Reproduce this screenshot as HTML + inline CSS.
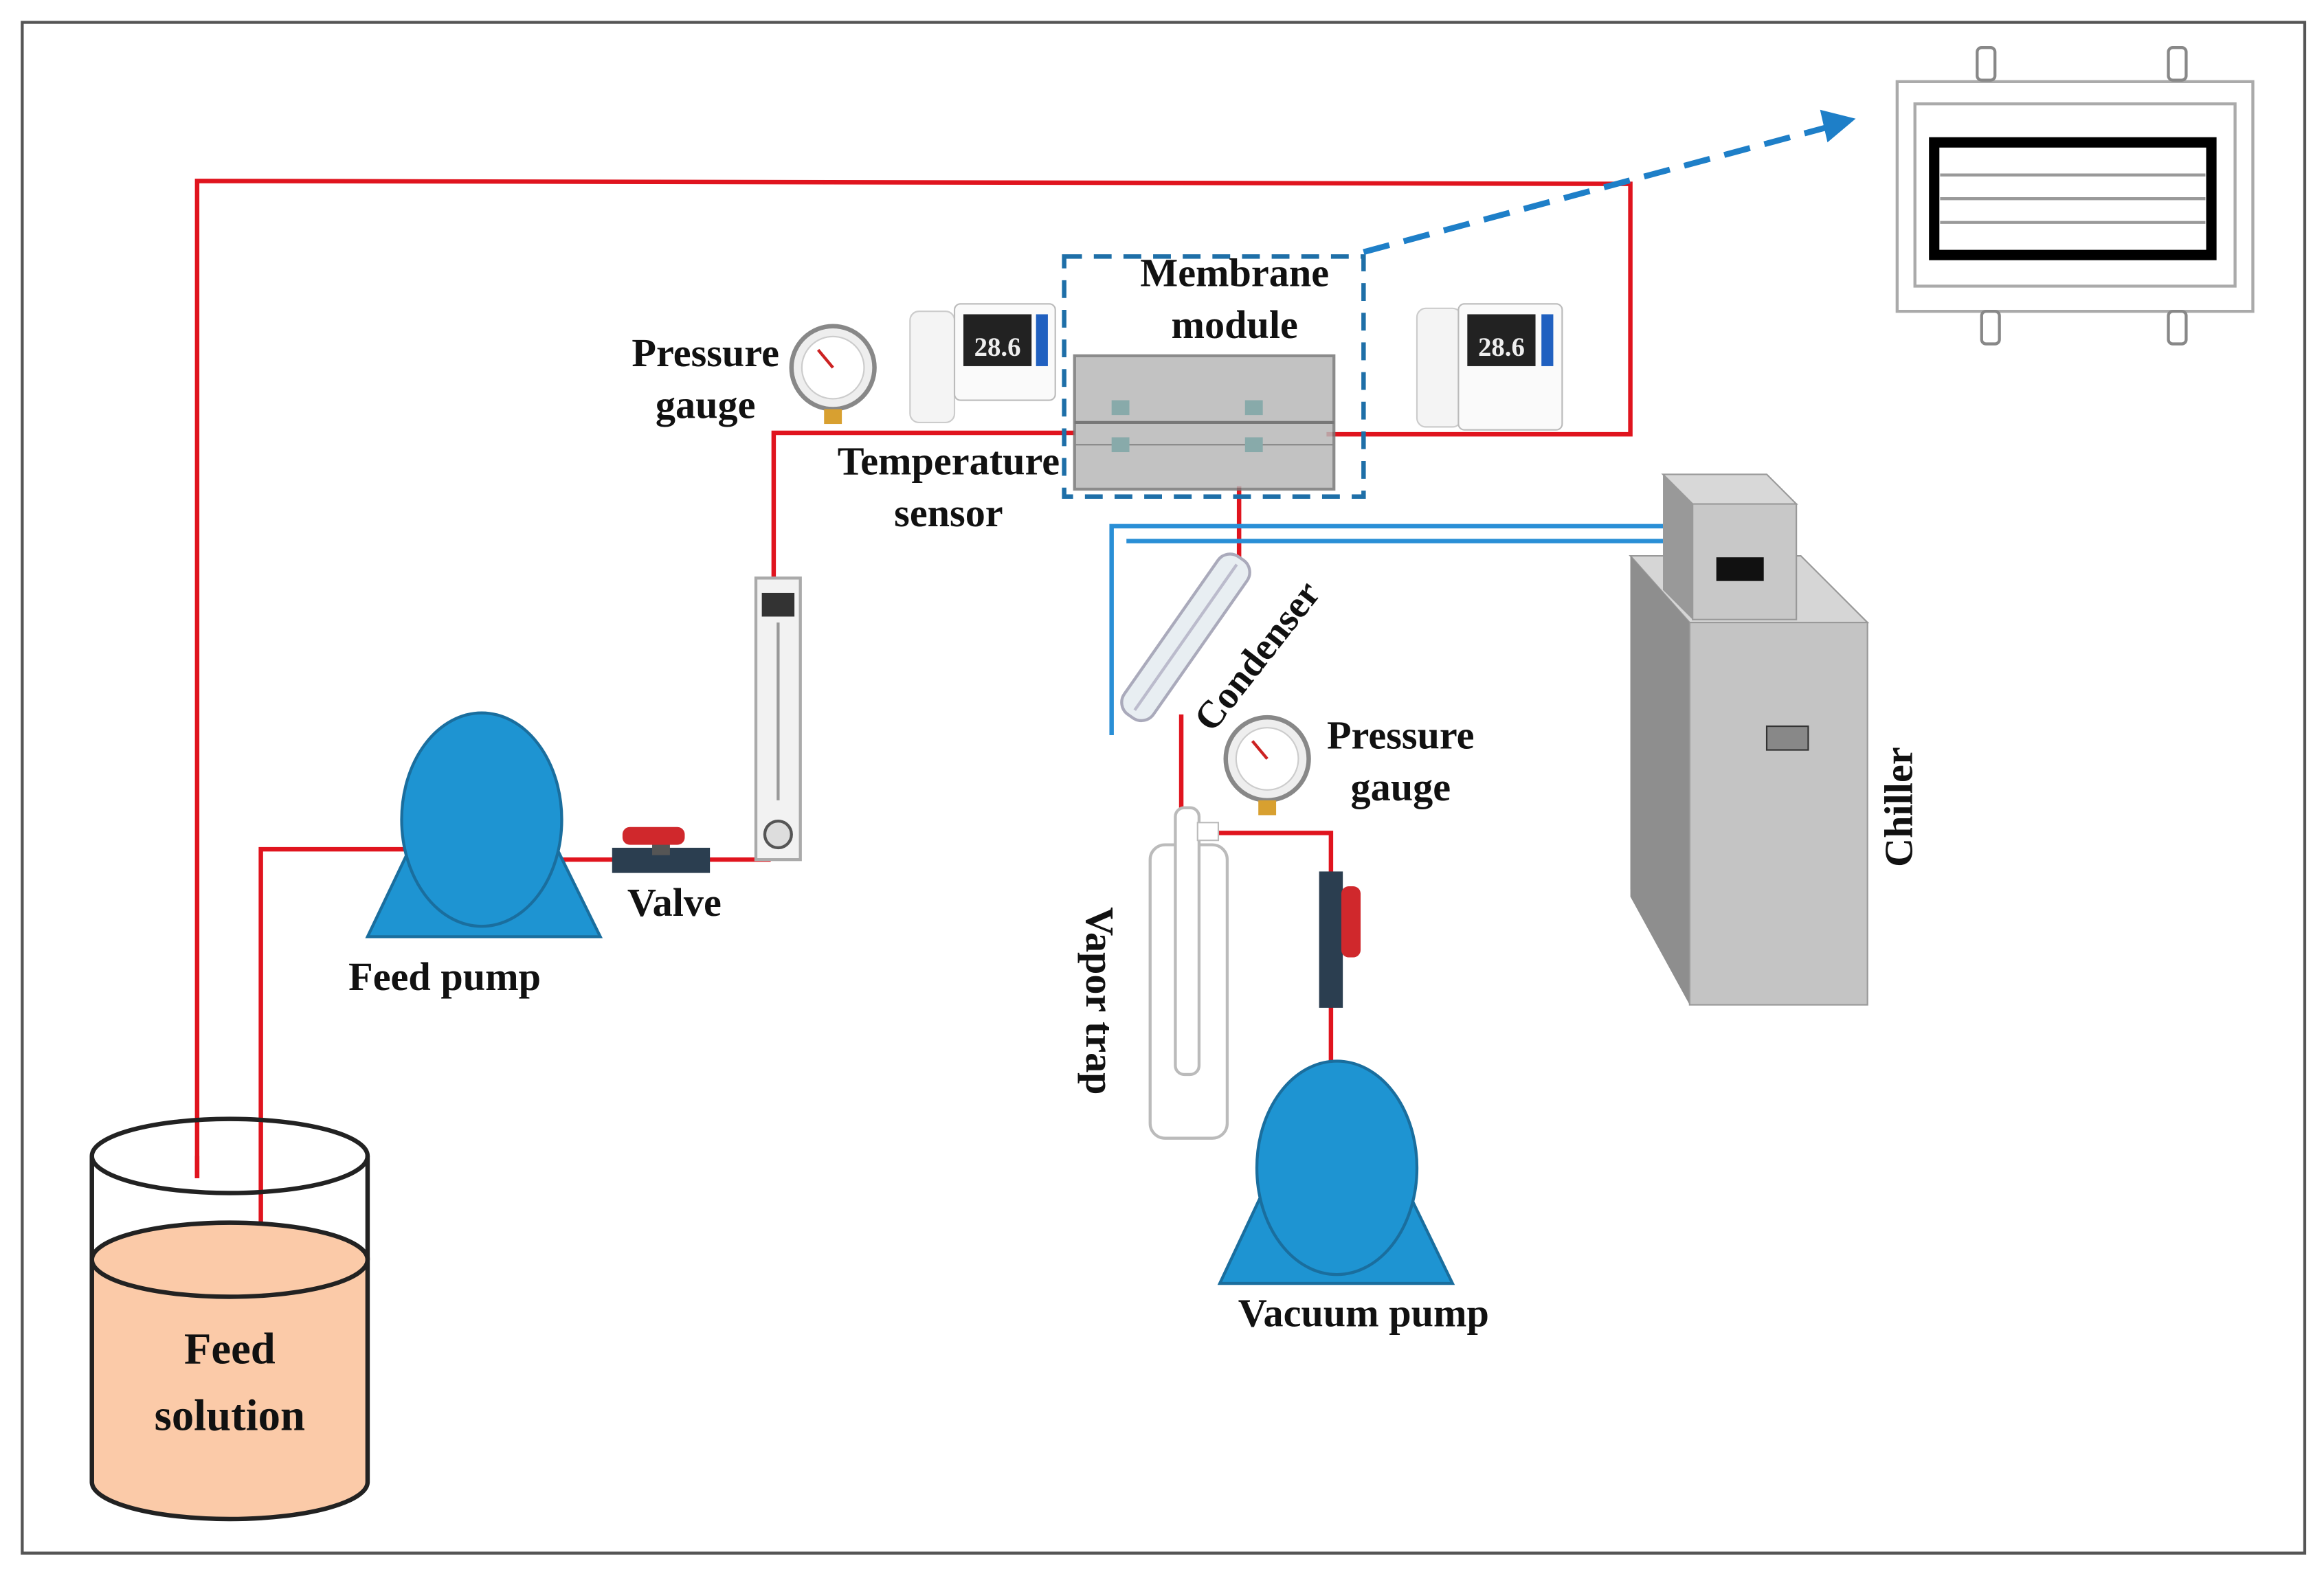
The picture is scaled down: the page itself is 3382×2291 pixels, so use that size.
<!DOCTYPE html>
<html><head><meta charset="utf-8">
<style>
html,body{margin:0;padding:0;background:#fff;}
svg{display:block;}
text{font-family:"Liberation Serif",serif;font-weight:bold;fill:#111;}
</style></head>
<body>
<svg width="3382" height="2291" viewBox="0 0 1568 1062" xmlns="http://www.w3.org/2000/svg">
<rect x="0" y="0" width="1568" height="1062" fill="#fff"/>
<rect x="15" y="15" width="1540" height="1033" fill="none" stroke="#555" stroke-width="2"/>

<!-- red piping -->
<g stroke="#e0141e" stroke-width="3" fill="none">
<polyline points="133,795 133,122 1100,124 1100,293 895,293"/>
<polyline points="176,853 176,573 275,573"/>
<line x1="378" y1="580" x2="520" y2="580"/>
<polyline points="522,392 522,292 725,292"/>
<line x1="836" y1="328" x2="836" y2="385"/>
<polyline points="797,482 797,548"/>
<polyline points="820,562 898,562 898,722"/>
</g>

<!-- blue chiller lines -->
<g stroke="#2a8fd6" stroke-width="3" fill="none">
<polyline points="750,496 750,355 1122,355"/>
<line x1="760" y1="365" x2="1122" y2="365"/>
</g>

<!-- Beaker -->
<path d="M62,850 L62,1000 A93,25 0 0 0 248,1000 L248,850 Z" fill="#fbcaa8" stroke="#222" stroke-width="3"/>
<ellipse cx="155" cy="850" rx="93" ry="25" fill="#fbcaa8" stroke="#222" stroke-width="3"/>
<line x1="62" y1="780" x2="62" y2="850" stroke="#222" stroke-width="3"/>
<line x1="248" y1="780" x2="248" y2="850" stroke="#222" stroke-width="3"/>
<ellipse cx="155" cy="780" rx="93" ry="25" fill="none" stroke="#222" stroke-width="3"/>
<line x1="133" y1="780" x2="133" y2="795" stroke="#e0141e" stroke-width="3"/>
<text x="155" y="920" font-size="30" text-anchor="middle">Feed</text>
<text x="155" y="965" font-size="30" text-anchor="middle">solution</text>

<!-- Feed pump -->
<polygon points="248,632 405,632 372,565 280,565" fill="#1e94d2" stroke="#1a6e9e" stroke-width="2"/>
<ellipse cx="325" cy="553" rx="54" ry="72" fill="#1e94d2" stroke="#1a6e9e" stroke-width="2"/>
<text x="300" y="668" font-size="27" text-anchor="middle">Feed pump</text>

<!-- Valve -->
<rect x="413" y="572" width="66" height="17" fill="#2b3e50"/>
<rect x="440" y="567" width="12" height="10" fill="#555"/>
<rect x="420" y="558" width="42" height="12" rx="5" fill="#d0282c"/>
<text x="455" y="618" font-size="27" text-anchor="middle">Valve</text>

<!-- Flowmeter -->
<rect x="510" y="390" width="30" height="190" fill="#f2f2f2" stroke="#aaa" stroke-width="2"/>
<rect x="514" y="400" width="22" height="16" fill="#333"/>
<line x1="525" y1="420" x2="525" y2="540" stroke="#999" stroke-width="2"/>
<circle cx="525" cy="563" r="9" fill="#ddd" stroke="#555" stroke-width="2"/>

<!-- Pressure gauge 1 -->
<circle cx="562" cy="248" r="28" fill="#eee" stroke="#888" stroke-width="3"/>
<circle cx="562" cy="248" r="21" fill="#fff" stroke="#ccc"/>
<line x1="562" y1="248" x2="552" y2="236" stroke="#c22" stroke-width="2"/>
<rect x="556" y="276" width="12" height="10" fill="#d8a030"/>
<text x="476" y="247" font-size="27" text-anchor="middle">Pressure</text>
<text x="476" y="282" font-size="27" text-anchor="middle">gauge</text>

<!-- Temperature sensors -->
<g>
<rect x="614" y="210" width="30" height="75" rx="6" fill="#f4f4f4" stroke="#ccc"/>
<rect x="644" y="205" width="68" height="65" rx="4" fill="#fafafa" stroke="#bbb"/>
<rect x="650" y="212" width="46" height="35" fill="#222"/>
<text x="673" y="240" font-size="18" fill="#eee" text-anchor="middle" style="fill:#eee">28.6</text>
<rect x="699" y="212" width="8" height="35" fill="#2060c0"/>
</g>
<g>
<rect x="956" y="208" width="30" height="80" rx="6" fill="#f4f4f4" stroke="#ccc"/>
<rect x="984" y="205" width="70" height="85" rx="4" fill="#fafafa" stroke="#bbb"/>
<rect x="990" y="212" width="46" height="35" fill="#222"/>
<text x="1013" y="240" font-size="18" text-anchor="middle" style="fill:#eee">28.6</text>
<rect x="1040" y="212" width="8" height="35" fill="#2060c0"/>
</g>
<text x="640" y="320" font-size="27" text-anchor="middle">Temperature</text>
<text x="640" y="355" font-size="27" text-anchor="middle">sensor</text>

<!-- Membrane module -->
<rect x="725" y="240" width="175" height="90" fill="#b8b8b8" stroke="#777" stroke-width="2" opacity="0.85"/>
<line x1="725" y1="285" x2="900" y2="285" stroke="#777" stroke-width="2"/>
<line x1="725" y1="300" x2="900" y2="300" stroke="#888"/>
<rect x="750" y="270" width="12" height="10" fill="#8aa"/><rect x="840" y="270" width="12" height="10" fill="#8aa"/>
<rect x="750" y="295" width="12" height="10" fill="#8aa"/><rect x="840" y="295" width="12" height="10" fill="#8aa"/>
<rect x="718" y="173" width="202" height="162" fill="none" stroke="#1e6fa8" stroke-width="3" stroke-dasharray="12,8"/>
<text x="833" y="193" font-size="27" text-anchor="middle">Membrane</text>
<text x="833" y="228" font-size="27" text-anchor="middle">module</text>

<!-- dashed arrow -->
<line x1="920" y1="170" x2="1232" y2="86" stroke="#1e7fc8" stroke-width="4" stroke-dasharray="18,10"/>
<polygon points="1252,80 1228,74 1233,96" fill="#1e7fc8"/>

<!-- inset -->
<rect x="1280" y="55" width="240" height="155" fill="#fff" stroke="#aaa" stroke-width="2"/>
<rect x="1292" y="70" width="216" height="123" fill="none" stroke="#aaa" stroke-width="2"/>
<rect x="1305" y="96" width="187" height="76" fill="none" stroke="#000" stroke-width="7"/>
<line x1="1309" y1="118" x2="1488" y2="118" stroke="#999" stroke-width="2"/>
<line x1="1309" y1="134" x2="1488" y2="134" stroke="#999" stroke-width="2"/>
<line x1="1309" y1="150" x2="1488" y2="150" stroke="#999" stroke-width="2"/>
<rect x="1334" y="32" width="12" height="22" rx="3" fill="#fff" stroke="#888" stroke-width="2"/>
<rect x="1463" y="32" width="12" height="22" rx="3" fill="#fff" stroke="#888" stroke-width="2"/>
<rect x="1337" y="210" width="12" height="22" rx="3" fill="#fff" stroke="#888" stroke-width="2"/>
<rect x="1463" y="210" width="12" height="22" rx="3" fill="#fff" stroke="#888" stroke-width="2"/>

<!-- Condenser -->
<g transform="translate(800,430) rotate(-55)">
<rect x="-65" y="-12" width="130" height="24" rx="10" fill="#e8eef2" stroke="#aab" stroke-width="2"/>
<line x1="-60" y1="0" x2="60" y2="0" stroke="#bbc" stroke-width="2"/>
</g>
<text x="0" y="0" font-size="26" transform="translate(818,495) rotate(-52)">Condenser</text>

<!-- Pressure gauge 2 -->
<circle cx="855" cy="512" r="28" fill="#eee" stroke="#888" stroke-width="3"/>
<circle cx="855" cy="512" r="21" fill="#fff" stroke="#ccc"/>
<line x1="855" y1="512" x2="845" y2="500" stroke="#c22" stroke-width="2"/>
<rect x="849" y="540" width="12" height="10" fill="#d8a030"/>
<text x="945" y="505" font-size="27" text-anchor="middle">Pressure</text>
<text x="945" y="540" font-size="27" text-anchor="middle">gauge</text>

<!-- Vapor trap -->
<rect x="776" y="570" width="52" height="198" rx="10" fill="#fff" stroke="#bbb" stroke-width="2"/>
<rect x="793" y="545" width="16" height="180" rx="6" fill="#fff" stroke="#bbb" stroke-width="2"/>
<rect x="808" y="555" width="14" height="12" fill="#fff" stroke="#bbb"/>
<text font-size="27" transform="translate(733,612) rotate(90)">Vapor trap</text>

<!-- vacuum valve -->
<rect x="890" y="588" width="16" height="92" fill="#2b3e50"/>
<rect x="905" y="598" width="13" height="48" rx="5" fill="#d0282c"/>

<!-- Vacuum pump -->
<polygon points="823,866 980,866 947,798 855,798" fill="#1e94d2" stroke="#1a6e9e" stroke-width="2"/>
<ellipse cx="902" cy="788" rx="54" ry="72" fill="#1e94d2" stroke="#1a6e9e" stroke-width="2"/>
<text x="920" y="895" font-size="27" text-anchor="middle">Vacuum pump</text>

<!-- Chiller -->
<polygon points="1100,375 1120,375 1260,450 1260,678 1240,678 1100,600" fill="#9a9a9a"/>
<polygon points="1100,375 1215,375 1260,420 1140,420" fill="#d6d6d6" stroke="#999"/>
<polygon points="1100,375 1140,420 1140,678 1100,605" fill="#8e8e8e"/>
<rect x="1140" y="420" width="120" height="258" fill="#c4c4c4" stroke="#999"/>
<rect x="1192" y="490" width="28" height="16" fill="#888" stroke="#333"/>
<polygon points="1122,320 1192,320 1212,340 1142,340" fill="#d8d8d8" stroke="#999"/>
<polygon points="1122,320 1142,340 1142,418 1122,398" fill="#999"/>
<rect x="1142" y="340" width="70" height="78" fill="#c8c8c8" stroke="#999"/>
<rect x="1158" y="376" width="32" height="16" fill="#111"/>
<text font-size="27" transform="translate(1290,585) rotate(-90)">Chiller</text>
</svg>
</body></html>
